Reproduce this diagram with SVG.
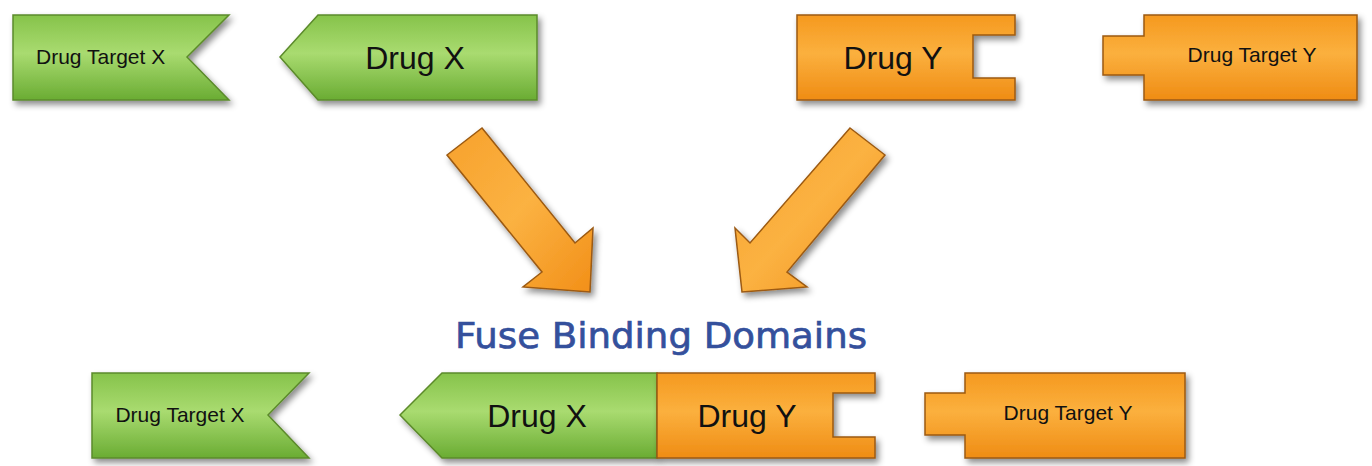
<svg xmlns="http://www.w3.org/2000/svg" width="1372" height="466" viewBox="0 0 1372 466">
<defs>
<linearGradient id="gGreen" x1="0" y1="0" x2="0" y2="1">
<stop offset="0" stop-color="#86c34a"/>
<stop offset="0.45" stop-color="#a9db70"/>
<stop offset="1" stop-color="#6aac33"/>
</linearGradient>
<linearGradient id="gOrange" x1="0" y1="0" x2="0" y2="1">
<stop offset="0" stop-color="#f5991f"/>
<stop offset="0.45" stop-color="#fbb03e"/>
<stop offset="1" stop-color="#ef8c14"/>
</linearGradient>
<linearGradient id="gArrowL" x1="0" y1="0" x2="1" y2="1">
<stop offset="0" stop-color="#f7a12c"/>
<stop offset="0.5" stop-color="#fbb242"/>
<stop offset="1" stop-color="#f28f18"/>
</linearGradient>
<filter id="shadow" x="-10%" y="-20%" width="125%" height="150%">
<feDropShadow dx="3" dy="4" stdDeviation="3" flood-color="#000" flood-opacity="0.45"/>
</filter>
</defs>
<style>
.green{fill:url(#gGreen);stroke:#5b8a2b;stroke-width:1.5;stroke-linejoin:miter;filter:url(#shadow)}
.orange{fill:url(#gOrange);stroke:#9c5a12;stroke-width:1.5;stroke-linejoin:miter;filter:url(#shadow)}
.arrow{fill:url(#gArrowL);stroke:#9c5a12;stroke-width:1.5;stroke-linejoin:miter;filter:url(#shadow)}
.small{font-family:"Liberation Sans",Arial,sans-serif;font-size:21px;fill:#111}
.big{font-family:"Liberation Sans",Arial,sans-serif;font-size:32px;fill:#111}
.title{font-family:"DejaVu Sans",Verdana,sans-serif;font-size:36px;fill:#34509c;stroke:#34509c;stroke-width:0.7}
</style>
<rect width="1372" height="466" fill="#ffffff"/>
<g id="connectors">
<polygon class="arrow" points="482,128 575,243 593,228 590,292 523,287 542,272 447,155"/>
<polygon class="arrow" points="850,128 885,155 787,272 807,287 742,292 735,228 750,243"/>
</g>
<g id="drug-target-x-top">
<polygon class="green" points="13,15 229,15 187,57 229,100 13,100"/>
<text class="small" x="36" y="64">Drug Target X</text>
</g>
<g id="drug-x-top">
<polygon class="green" points="280,57 318,15 537,15 537,100 318,100"/>
<text class="big" x="415" y="69" text-anchor="middle">Drug X</text>
</g>
<g id="drug-y-top">
<polygon class="orange" points="797,15 1015,15 1015,35 973,35 973,78 1015,78 1015,100 797,100"/>
<text class="big" x="893" y="69" text-anchor="middle">Drug Y</text>
</g>
<g id="drug-target-y-top">
<polygon class="orange" points="1144,15 1357,15 1357,100 1144,100 1144,75 1103,75 1103,36 1144,36"/>
<text class="small" x="1252" y="62" text-anchor="middle">Drug Target Y</text>
</g>
<g id="title">
<text class="title" x="455" y="348" textLength="412" lengthAdjust="spacingAndGlyphs">Fuse Binding Domains</text>
</g>
<g id="drug-target-x-bottom">
<polygon class="green" points="92,373 309,373 268,415 309,458 92,458"/>
<text class="small" x="180" y="422" text-anchor="middle">Drug Target X</text>
</g>
<g id="drug-x-bottom">
<polygon class="green" points="400,415 442,373 657,373 657,458 442,458"/>
<text class="big" x="537" y="427" text-anchor="middle">Drug X</text>
</g>
<g id="drug-y-bottom">
<polygon class="orange" points="657,373 875,373 875,393 833,393 833,437 875,437 875,458 657,458"/>
<text class="big" x="747" y="427" text-anchor="middle">Drug Y</text>
</g>
<g id="drug-target-y-bottom">
<polygon class="orange" points="965,373 1185,373 1185,458 965,458 965,435 925,435 925,393 965,393"/>
<text class="small" x="1068" y="420" text-anchor="middle">Drug Target Y</text>
</g>
</svg>
